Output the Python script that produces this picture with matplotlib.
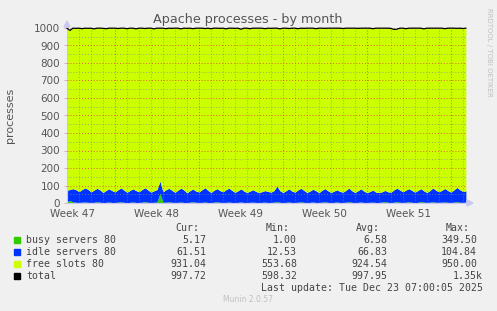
import numpy as np
import matplotlib
matplotlib.use("Agg")
import matplotlib.pyplot as plt

# sample times in days since the start of week 47 (4 samples per day)
start_day = 3.0
step_day = 0.25

week_labels = ["Week 47", "Week 48", "Week 49", "Week 50", "Week 51"]
week_starts = [0, 7, 14, 21, 28, 35]

busy = [
    8, 14, 6, 4,   3, 5, 6, 4,   3, 4, 7, 5,   2, 4, 6, 3,
    3, 5, 7, 4,   2, 4, 6, 3,   3, 5, 8, 4,   3, 4, 6, 55,
    4, 5, 7, 4,   3, 4, 6, 3,   2, 5, 7, 4,   3, 4, 6, 3,
    2, 5, 7, 4,   3, 4, 6, 3,   2, 4, 6, 3,   3, 4, 5, 3,
    2, 4, 5, 3,   3, 5, 8, 4,   2, 4, 6, 3,   3, 5, 7, 4,
    2, 4, 6, 3,   3, 5, 7, 4,   2, 4, 6, 3,   3, 5, 8, 4,
    2, 4, 6, 3,   3, 4, 5, 3,   3, 6, 9, 4,   2, 5, 8, 4,
    3, 5, 7, 4,   2, 4, 9, 5,   3, 5, 7, 4,   4, 5, 6, 4,
    3, 5, 8, 4,   4, 5,
]
idle = [
    64, 64, 76, 72,   62, 72, 80, 74,   60, 70, 77, 70,   58, 68, 75, 68,
    60, 71, 79, 70,   59, 68, 75, 68,   61, 72, 79, 70,   59, 66, 71, 70,
    60, 71, 77, 68,   58, 70, 79, 71,   56, 66, 73, 64,   60, 72, 81, 69,
    58, 68, 75, 67,   61, 72, 79, 69,   59, 66, 75, 65,   57, 64, 71, 63,
    58, 61, 66, 63,   59, 66, 89, 66,   58, 66, 75, 65,   59, 70, 77, 68,
    58, 64, 73, 67,   56, 68, 75, 66,   58, 64, 69, 63,   59, 68, 77, 66,
    58, 66, 75, 65,   56, 62, 69, 59,   57, 58, 63, 60,   60, 70, 77, 70,
    61, 69, 75, 68,   60, 68, 73, 64,   57, 66, 79, 69,   60, 68, 77, 67,
    59, 70, 81, 72,   62, 64,
]
total = [
    999, 986, 999, 998,   999, 996, 999, 998,   999, 995, 999, 999,   998, 996, 999, 999,
    999, 997, 999, 999,   996, 999, 999, 995,   999, 999, 997, 999,   999, 995, 999, 999,
    999, 996, 999, 998,   999, 999, 995, 999,   998, 999, 996, 999,   999, 999, 997, 999,
    996, 999, 999, 998,   999, 995, 999, 999,   998, 999, 993, 999,   999, 996, 999, 999,
    999, 999, 996, 999,   998, 999, 999, 995,   999, 999, 997, 999,   999, 996, 999, 998,
    999, 999, 999, 996,   999, 999, 998, 999,   999, 999, 999, 999,   997, 999, 999, 999,
    999, 998, 999, 999,   999, 999, 996, 999,   999, 999, 999, 999,   998, 992, 993, 999,
    999, 996, 999, 999,   999, 999, 999, 995,   999, 999, 999, 999,   999, 999, 996, 999,
    999, 999, 998, 999,   997, 999,
]

legend_names = ["busy servers 80", "idle servers 80", "free slots 80", "total"]
legend_cur = ["5.17", "61.51", "931.04", "997.72"]
legend_min = ["1.00", "12.53", "553.68", "598.32"]
legend_avg = ["6.58", "66.83", "924.54", "997.95"]
legend_max = ["349.50", "104.84", "950.00", "1.35k"]
colors = ["#33cc00", "#0033ff", "#ccff00", "#000000"]

W, H = 497, 311
BG = "#f0f0f0"


def px(x):
    return x / W


def py(y):
    return 1 - y / H


def main() -> None:
    fig = plt.figure(figsize=(W / 100, H / 100), dpi=100, facecolor=BG)
    left, right, top, bottom = 67, 466, 28, 203
    ax = fig.add_axes([px(left), py(bottom), (right - left) / W, (bottom - top) / H])
    ax.set_facecolor("white")

    n = len(idle)
    t = start_day + step_day * np.arange(n)
    b = np.array(busy, float)
    i = np.array(idle, float)
    tot = np.array(total, float)

    ax.fill_between(t, 0, b, color=colors[0], lw=0, zorder=2)
    ax.fill_between(t, b, b + i, color=colors[1], lw=0, zorder=2)
    ax.fill_between(t, b + i, tot, color=colors[2], lw=0, zorder=2)
    ax.plot(t, tot, color="black", lw=0.9, zorder=4, clip_on=False)

    ax.set_xlim(start_day, t[-1] + 0.01)
    ax.set_ylim(0, 1000)

    # grid: minor dotted gray, major dotted red (drawn over the data like rrdtool)
    minor = dict(color="#8a8a8a", lw=0.7, ls=(0, (1, 2)), alpha=0.7, zorder=3)
    major = dict(color="#e04040", lw=0.7, ls=(0, (1, 2)), alpha=0.8, zorder=3)
    for d in range(int(start_day) + 1, int(t[-1]) + 1):
        if d not in week_starts:
            ax.axvline(d, **minor)
    for d in week_starts:
        if start_day < d < t[-1]:
            ax.axvline(d, **major)
    for v in range(50, 1000, 100):
        ax.axhline(v, **minor)
    for v in range(100, 1001, 100):
        ax.axhline(v, **major)

    for side in ["top", "right"]:
        ax.spines[side].set_visible(False)
    ax.spines["left"].set_color("#c8c8f0")
    ax.spines["bottom"].set_color("#c8c8f0")
    ax.spines["left"].set_linewidth(0.8)
    ax.spines["bottom"].set_linewidth(0.8)

    ax.set_yticks(range(0, 1001, 100))
    ax.tick_params(axis="y", length=2, width=0.5, color="#c8a0a0", labelsize=7.5,
                   labelcolor="#555555", pad=3)
    centers = [d + 3.5 for d in week_starts[:-1]]
    ax.set_xticks(centers, week_labels)
    ax.tick_params(axis="x", length=0, labelsize=7.5, labelcolor="#555555", pad=4)

    # axis arrows
    fig.patches.append(plt.Polygon(
        [(px(64), py(27)), (px(70), py(27)), (px(67), py(21))],
        closed=True, color="#c8c8f0", transform=fig.transFigure))
    fig.patches.append(plt.Polygon(
        [(px(467), py(200)), (px(467), py(206)), (px(473), py(203))],
        closed=True, color="#c8c8f0", transform=fig.transFigure))

    fig.text(px(248), py(19), "Apache processes - by month", ha="center", va="center",
             fontsize=9.2, color="#555555")
    fig.text(px(10), py(115), "processes", rotation=90, ha="center", va="center",
             fontsize=8, color="#555555")
    fig.text(px(489), py(8), "RRDTOOL / TOBI OETIKER", rotation=270, ha="center", va="top",
             fontsize=5, color="#c0c0c0")

    mono = dict(family="DejaVu Sans Mono", fontsize=7.1, color="#444444", va="center")
    fig.text(px(199), py(228), "Cur:", ha="right", **mono)
    fig.text(px(290), py(228), "Min:", ha="right", **mono)
    fig.text(px(380), py(228), "Avg:", ha="right", **mono)
    fig.text(px(470), py(228), "Max:", ha="right", **mono)
    for k, name in enumerate(legend_names):
        y = 240 + 12 * k
        fig.patches.append(plt.Rectangle((px(14), py(y + 3)), 6 / W, 6 / H, color=colors[k],
                                         transform=fig.transFigure))
        fig.text(px(26), py(y), name, ha="left", **mono)
        fig.text(px(206), py(y), legend_cur[k], ha="right", **mono)
        fig.text(px(297), py(y), legend_min[k], ha="right", **mono)
        fig.text(px(387), py(y), legend_avg[k], ha="right", **mono)
        fig.text(px(483) if legend_max[k].endswith("k") else px(477), py(y),
                 legend_max[k], ha="right", **mono)
    fig.text(px(483), py(288), "Last update: Tue Dec 23 07:00:05 2025", ha="right", **mono)
    fig.text(px(248), py(300), "Munin 2.0.57", ha="center", va="center",
             fontsize=5.5, color="#c0c0c0")

    fig.savefig("out.png", dpi=100, facecolor=BG)
    plt.close(fig)


if __name__ == "__main__":
    main()
